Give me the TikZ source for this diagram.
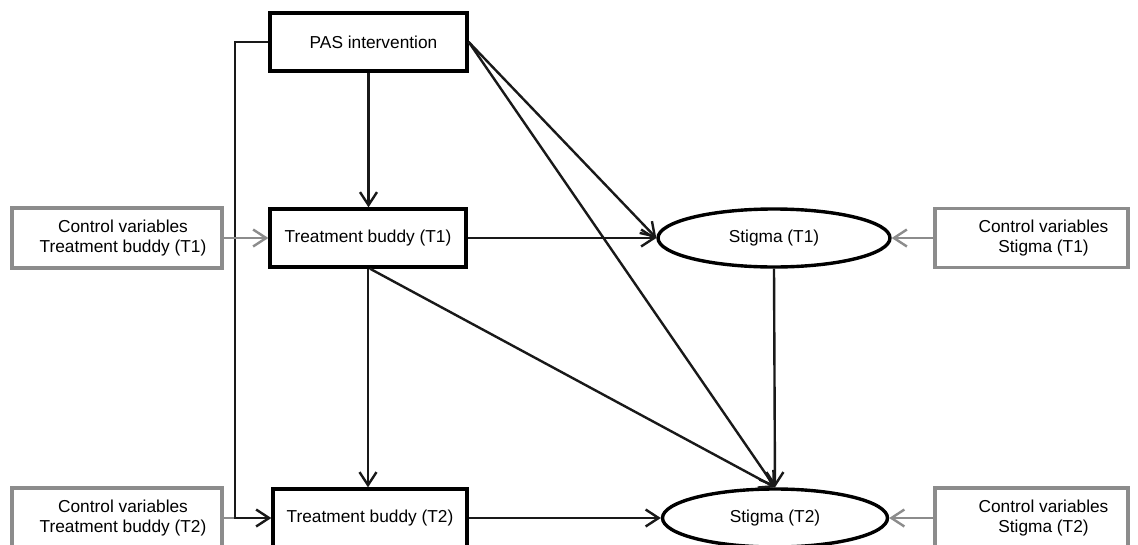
\documentclass[tikz,border=0pt]{standalone}
\usepackage{fontspec}
\setmainfont{Liberation Sans}
\usetikzlibrary{arrows.meta,shapes.geometric,calc}
\begin{document}
\begin{tikzpicture}[x=1pt,y=-1pt,
  font=\fontsize{17.3}{20}\selectfont,
  box/.style={draw=black,line width=3.4pt,rectangle,inner sep=0pt,align=center},
  gbox/.style={draw=gray!90,line width=3.2pt,rectangle,inner sep=0pt,align=center},
  ell/.style={draw=black,line width=3.4pt,ellipse,inner sep=0pt,align=center},
  conn/.style={draw=black!90,line width=2.4pt,-{Straight Barb[length=13pt,width=17pt]}},
  gconn/.style={draw=gray!90,line width=2.4pt,-{Straight Barb[length=13pt,width=17pt]}},
  gline/.style={draw=gray!90,line width=2.4pt}]
\clip (0,0) rectangle (1138,544);
\fill[white] (0,0) rectangle (1138,544);
% nodes
\node[box,minimum width=197pt,minimum height=58pt] (PAS) at (368.5,42) {\hspace*{10pt}PAS intervention};
\node[box,minimum width=196pt,minimum height=58pt] (T1) at (368,238) {Treatment buddy (T1)};
\node[box,minimum width=194pt,minimum height=58pt] (T2) at (370,518) {Treatment buddy (T2)};
\node[gbox,minimum width=210pt,minimum height=60pt] (CT1) at (117,238) {\hspace*{12pt}Control variables\\\hspace*{12pt}Treatment buddy (T1)};
\node[gbox,minimum width=210pt,minimum height=60pt] (CT2) at (117,518) {\hspace*{12pt}Control variables\\\hspace*{12pt}Treatment buddy (T2)};
\node[ell,minimum width=232pt,minimum height=58pt] (S1) at (774,238) {Stigma (T1)};
\node[ell,minimum width=225pt,minimum height=58pt] (S2) at (775,518) {Stigma (T2)};
\node[gbox,minimum width=193pt,minimum height=59pt] (CS1) at (1031.5,238) {\hspace*{24pt}Control variables\\\hspace*{24pt}Stigma (T1)};
\node[gbox,minimum width=193pt,minimum height=60pt] (CS2) at (1031.5,518) {\hspace*{24pt}Control variables\\\hspace*{24pt}Stigma (T2)};
\coordinate (L1) at (235,42);
\coordinate (M2) at (235,518);
% connectors
\draw[conn] (PAS.south) -- (PAS.south |- T1.north);
\draw[conn] (PAS.east) -- (S1.west);
\draw[conn] (PAS.east) -- (S2.north);
\draw[conn] (T1.east) -- (S1.west);
\draw[conn] (T1.south) -- (T1.south |- T2.north);
\draw[conn] ($(T1.south)+(2,0)$) -- (S2.north);
\draw[conn] (S1.south) -- (S2.north);
\draw[conn] (T2.east) -- (S2.west);
\draw[gline] (CT2.east) -- (M2);
\draw[conn] (PAS.west) -- (L1) |- (T2.west);
\draw[gconn] (CT1.east) -- (T1.west);
\draw[gconn] (CS1.west) -- (S1.east);
\draw[gconn] (CS2.west) -- (S2.east);
\end{tikzpicture}
\end{document}
